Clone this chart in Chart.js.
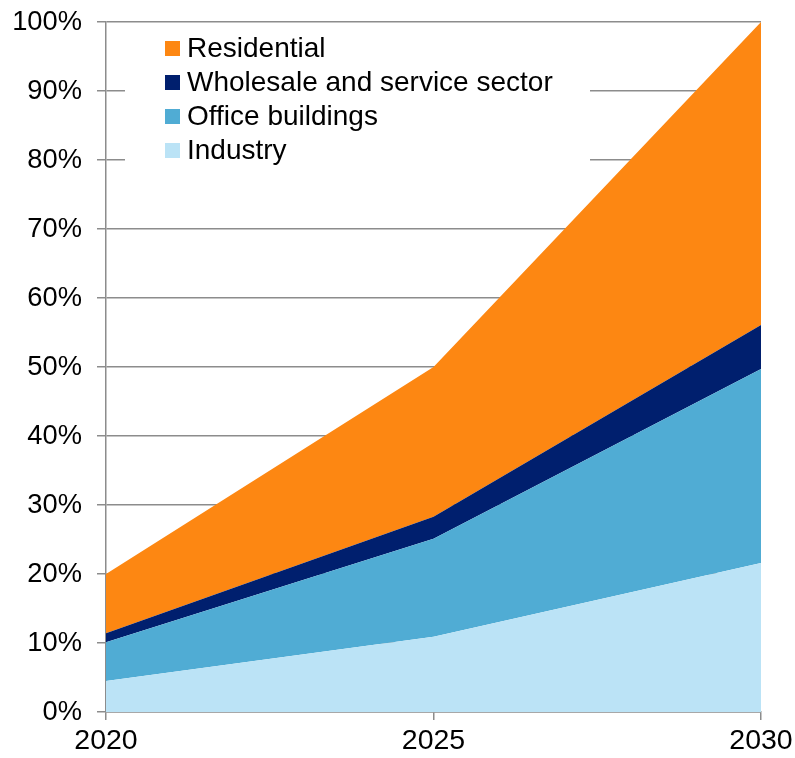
<!DOCTYPE html>
<html lang="en">
  <head>
    <meta charset="UTF-8" />
    <title>Share by sector</title>
    <script src="https://cdn.jsdelivr.net/npm/chart.js@4.4.1/dist/chart.umd.min.js"></script>
    <style>
      body {
        margin: 0;
        background: #fff;
      }
      #wrap {
        width: 795px;
        height: 758px;
      }
    </style>
  </head>
  <body>
    <div id="wrap"><canvas id="myChart"></canvas></div>
    <script>
      const years = ["2020", "2025", "2030"];
      const industry = [4.5, 10.9, 21.6];
      const office = [5.6, 14.2, 28.1];
      const wholesale = [1.3, 3.2, 6.4];
      const residential = [8.6, 21.7, 43.9];
      const yTicks = [0, 10, 20, 30, 40, 50, 60, 70, 80, 90, 100];

      const fontFamily = "'Liberation Sans', Arial, sans-serif";
      const gridColor = "#8c8c8c";

      // legend drawn inside the plot, on a white box over the grid
      const boxLegend = {
        id: "boxLegend",
        afterDraw(chart) {
          const ctx = chart.ctx;
          const area = chart.chartArea;
          const x0 = area.left + 59;
          const y0 = area.top + 26.5;
          const rowH = 34;
          ctx.save();
          ctx.fillStyle = "#fff";
          ctx.fillRect(area.left + 19, area.top + 7, 465, 143);
          ctx.font = "28px " + fontFamily;
          ctx.textBaseline = "middle";
          const items = chart.data.datasets.slice().reverse();
          items.forEach((ds, i) => {
            const cy = y0 + i * rowH;
            ctx.fillStyle = ds.backgroundColor;
            ctx.fillRect(x0, cy - 7.5, 15, 15);
            ctx.fillStyle = "#000";
            ctx.fillText(ds.label, x0 + 22, cy + 1);
          });
          ctx.restore();
        },
      };

      const ctx = document.getElementById("myChart").getContext("2d");
      const myChart = new Chart(ctx, {
        type: "line",
        data: {
          labels: years,
          datasets: [
            {
              label: "Industry",
              data: industry,
              backgroundColor: "#BBE3F6",
              fill: "origin",
            },
            {
              label: "Office buildings",
              data: office,
              backgroundColor: "#50ACD4",
              fill: "-1",
            },
            {
              label: "Wholesale and service sector",
              data: wholesale,
              backgroundColor: "#001F6E",
              fill: "-1",
            },
            {
              label: "Residential",
              data: residential,
              backgroundColor: "#FD8712",
              fill: "-1",
            },
          ].map((d) => ({
            ...d,
            borderWidth: 0,
            borderColor: "rgba(0,0,0,0)",
            pointRadius: 0,
            tension: 0,
          })),
        },
        options: {
          responsive: true,
          maintainAspectRatio: false,
          animation: false,
          layout: {
            padding: { top: 22, right: 34, bottom: 0, left: 0 },
          },
          plugins: {
            legend: { display: false },
            tooltip: { enabled: false },
          },
          scales: {
            x: {
              offset: false,
              grid: {
                display: true,
                drawOnChartArea: false,
                drawTicks: true,
                tickLength: 8,
                color: gridColor,
                lineWidth: 1.5,
              },
              border: { display: true, color: gridColor, width: 1.5 },
              ticks: {
                color: "#000",
                font: { family: fontFamily, size: 28.5 },
                padding: 4,
                maxRotation: 0,
              },
              afterFit(scale) {
                scale.height = 46;
                scale.paddingLeft = 0;
                scale.paddingRight = 0;
              },
            },
            y: {
              stacked: true,
              min: 0,
              max: 100,
              afterBuildTicks(scale) {
                scale.ticks = yTicks.map((v) => ({ value: v }));
              },
              grid: {
                color: gridColor,
                lineWidth: 1.5,
                tickLength: 9,
              },
              border: { display: true, color: gridColor, width: 1.5 },
              ticks: {
                color: "#000",
                font: { family: fontFamily, size: 27.3 },
                padding: 15,
                callback: (v) => v + "%",
              },
              afterFit(scale) {
                scale.width = 106;
                scale.paddingTop = 0;
                scale.paddingBottom = 0;
              },
            },
          },
        },
        plugins: [boxLegend],
      });
    </script>
  </body>
</html>
